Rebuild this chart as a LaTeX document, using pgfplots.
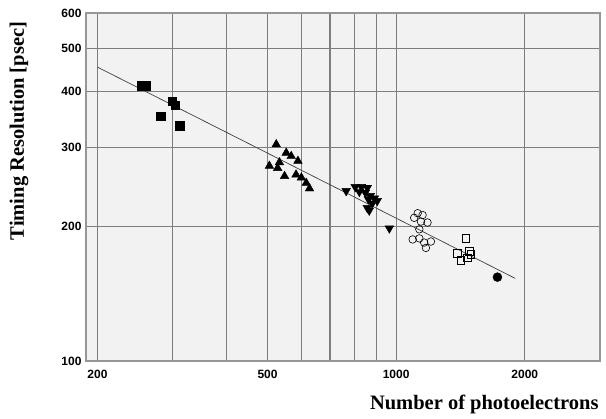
\documentclass[border=0pt]{standalone}
\usepackage{pgfplots}
\pgfplotsset{compat=1.18}
\usepackage{fontspec}
\setmainfont{Liberation Serif}
\setsansfont{Liberation Sans}
\definecolor{bgfill}{RGB}{242,242,242}
\definecolor{gridc}{RGB}{125,125,125}
\definecolor{framec}{RGB}{150,150,150}

\begin{document}
\begin{tikzpicture}
\begin{axis}[
  scale only axis, width=514pt, height=348pt,
  xmode=log, ymode=log,
  xmin=188, xmax=3000, ymin=100, ymax=600,
  xtick={200,500,1000,2000}, xticklabels={200,500,1000,2000},
  minor xtick={300,400,600,700,800,900},
  ytick={100,200,300,400,500,600}, yticklabels={100,200,300,400,500,600},
  minor ytick={},
  xmajorgrids, xminorgrids, ymajorgrids,
  grid style={gridc, line width=1.2pt},
  minor grid style={gridc, line width=1.2pt},
  axis line style={framec, line width=1.8pt},
  tick style={draw=none},
  axis background/.style={fill=bgfill},
  ticklabel style={font=\sffamily\bfseries\fontsize{12}{12}\selectfont},
  xticklabel style={yshift=-6pt},
  yticklabel style={xshift=-1pt},
  xlabel={Number of photoelectrons},
  ylabel={Timing Resolution [psec]},
  label style={font=\bfseries\fontsize{20.5}{21}\selectfont},
  xlabel style={at={(axis description cs:1.004,-0.126)}, anchor=east},
  ylabel style={at={(axis description cs:-0.105,0.661)}, anchor=south},
]
% fit line
\addplot[no marks, black!75, line width=0.7pt] coordinates {(200,454) (1900,153)};
% filled squares
\addplot[only marks, mark=square*, mark size=4.3pt, black] coordinates {
(253,412) (259,412) (299,381) (304,373) (281,353) (311,336)};
% filled triangles
\addplot[only marks, mark=triangle*, mark size=5pt, black] coordinates {
(524,305) (553,292) (568,287) (589,280) (505,273) (533,278)
(528,270) (548,259) (583,261) (600,257) (616,250) (627,243)};
% inverted triangles
\addplot[only marks, mark=triangle*, mark size=5pt, black, mark options={rotate=180}] coordinates {
(764,240) (802,245) (829,245) (856,244) (820,239) (847,238) (870,234)
(889,231) (861,230) (879,225) (856,220) (865,217) (903,228) (964,198)};
% open circles
\addplot[only marks, mark=o, mark size=3.8pt, black, mark options={line width=0.6pt}] coordinates {
(1123,214) (1153,212) (1102,209) (1143,205) (1184,204) (1133,197)
(1093,187) (1133,188) (1163,184) (1174,179) (1206,185)};
% open squares
\addplot[only marks, mark=square, mark size=3.8pt, black, mark options={line width=0.6pt}] coordinates {
(1456,188) (1392,174) (1483,176) (1417,168) (1469,170) (1496,173)};
% filled circle
\addplot[only marks, mark=*, mark size=4.5pt, black] coordinates {(1726,154)};
\end{axis}
\pgfresetboundingbox
\path[use as bounding box] ([xshift=-86pt,yshift=-58pt]current axis.south west) rectangle ([xshift=6pt,yshift=13pt]current axis.north east);
\end{tikzpicture}
\end{document}
